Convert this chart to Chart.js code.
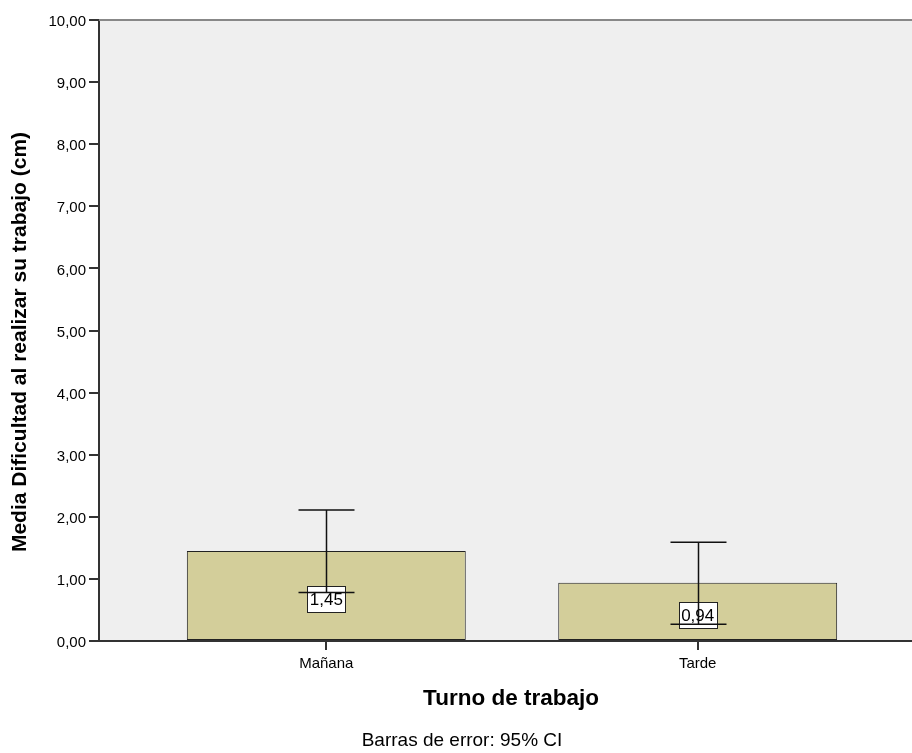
<!DOCTYPE html>
<html>
<head>
<meta charset="utf-8">
<script src="https://cdn.jsdelivr.net/npm/chart.js@4"></script>
<style>
  html, body { margin: 0; padding: 0; background: #ffffff; overflow: hidden; }
  #wrap { width: 912px; height: 753px; position: relative; }
</style>
</head>
<body>
<div id="wrap"><canvas id="chart" width="912" height="753"></canvas></div>
<script>
// Turno de trabajo: media y IC 95% de la dificultad al realizar su trabajo
const categories = ['Mañana', 'Tarde'];
const means = [1.45, 0.94];
const ciLower = [0.78, 0.27];
const ciUpper = [2.11, 1.59];
const yTicks = [0, 1, 2, 3, 4, 5, 6, 7, 8, 9, 10];

const FONT = '"Liberation Sans", Arial, sans-serif';
const fmt = v => v.toFixed(2).replace('.', ',');

const barData = categories.map((c, i) => ({ x: i, y: means[i] }));

const decorPlugin = {
  id: 'decor',
  beforeDraw(chart) {
    const { ctx, chartArea: a } = chart;
    ctx.save();
    ctx.fillStyle = '#efefef';
    ctx.fillRect(a.left, a.top, a.right - a.left, a.bottom - a.top);
    ctx.restore();
  },
  afterDatasetsDraw(chart) {
    const { ctx, scales } = chart;
    const xs = scales.x, ys = scales.y;
    ctx.save();
    // value labels in boxes
    ctx.font = '17px ' + FONT;
    ctx.textAlign = 'center';
    ctx.textBaseline = 'middle';
    means.forEach((m, i) => {
      const cx = xs.getPixelForValue(i);
      const cy = ys.getPixelForValue(m / 2) + 3;
      const txt = fmt(m);
      const w = Math.round(ctx.measureText(txt).width + 5);
      const h = 26;
      const bx = Math.round(cx - w / 2), by = Math.round(cy - h / 2);
      ctx.fillStyle = '#ffffff';
      ctx.fillRect(bx, by, w, h);
      ctx.strokeStyle = '#222222';
      ctx.lineWidth = 1;
      ctx.strokeRect(bx + 0.5, by + 0.5, w, h);
      ctx.fillStyle = '#000000';
      ctx.fillText(txt, cx, cy + 1);
    });
    // error bars
    ctx.strokeStyle = '#111111';
    ctx.lineWidth = 1.5;
    const cap = 28;
    means.forEach((m, i) => {
      const cx = Math.round(xs.getPixelForValue(i)) + 0.5;
      const yl = ys.getPixelForValue(ciLower[i]);
      const yh = ys.getPixelForValue(ciUpper[i]);
      ctx.beginPath();
      ctx.moveTo(cx, yh); ctx.lineTo(cx, yl);
      ctx.moveTo(cx - cap, yh); ctx.lineTo(cx + cap, yh);
      ctx.moveTo(cx - cap, yl); ctx.lineTo(cx + cap, yl);
      ctx.stroke();
    });
    ctx.restore();
  },
  afterDraw(chart) {
    const { ctx, chartArea: a } = chart;
    ctx.save();
    // upper frame line
    ctx.strokeStyle = '#888888';
    ctx.lineWidth = 2;
    ctx.beginPath();
    ctx.moveTo(a.left, a.top); ctx.lineTo(a.right, a.top);
    ctx.stroke();
    // axis titles and footnote
    ctx.fillStyle = '#000000';
    ctx.textAlign = 'center';
    ctx.textBaseline = 'middle';
    ctx.font = 'bold 22.5px ' + FONT;
    ctx.fillText('Turno de trabajo', 511, 699);
    ctx.font = 'bold 21px ' + FONT;
    ctx.save();
    ctx.translate(20, 342);
    ctx.rotate(-Math.PI / 2);
    ctx.fillText('Media Dificultad al realizar su trabajo (cm)', 0, 0);
    ctx.restore();
    ctx.font = '19px ' + FONT;
    ctx.fillText('Barras de error: 95% CI', 462, 741);
    ctx.restore();
  }
};

new Chart(document.getElementById('chart'), {
  type: 'bar',
  data: {
    datasets: [{
      data: barData,
      backgroundColor: '#d3ce9a',
      borderColor: '#222222',
      borderWidth: 1,
      borderSkipped: false,
      categoryPercentage: 1,
      barPercentage: 0.751
    }]
  },
  options: {
    responsive: false,
    animation: false,
    devicePixelRatio: 1,
    layout: { padding: { top: 20, right: 0, left: 0, bottom: 0 } },
    plugins: { legend: { display: false }, tooltip: { enabled: false } },
    scales: {
      x: {
        type: 'linear',
        offset: false,
        min: -0.612,
        max: 1.577,
        afterBuildTicks: s => { s.ticks = categories.map((c, i) => ({ value: i })); },
        afterFit: s => { s.height = 112; },
        ticks: {
          callback: v => categories[v],
          font: { family: FONT, size: 15 },
          color: '#000000',
          padding: 5,
          maxRotation: 0
        },
        grid: { offset: false, drawOnChartArea: false, drawTicks: true, tickLength: 9, color: '#333333', lineWidth: 2 },
        border: { display: true, color: '#333333', width: 2 }
      },
      y: {
        min: 0,
        max: 10,
        afterBuildTicks: s => { s.ticks = yTicks.map(v => ({ value: v })); },
        afterFit: s => { s.width = 99; },
        ticks: {
          callback: v => fmt(v),
          font: { family: FONT, size: 15 },
          color: '#000000',
          padding: 3,
          labelOffset: 2
        },
        grid: { drawOnChartArea: false, drawTicks: true, tickLength: 10, color: '#333333', lineWidth: 2 },
        border: { display: true, color: '#333333', width: 2 }
      }
    }
  },
  plugins: [decorPlugin]
});
</script>
</body>
</html>
